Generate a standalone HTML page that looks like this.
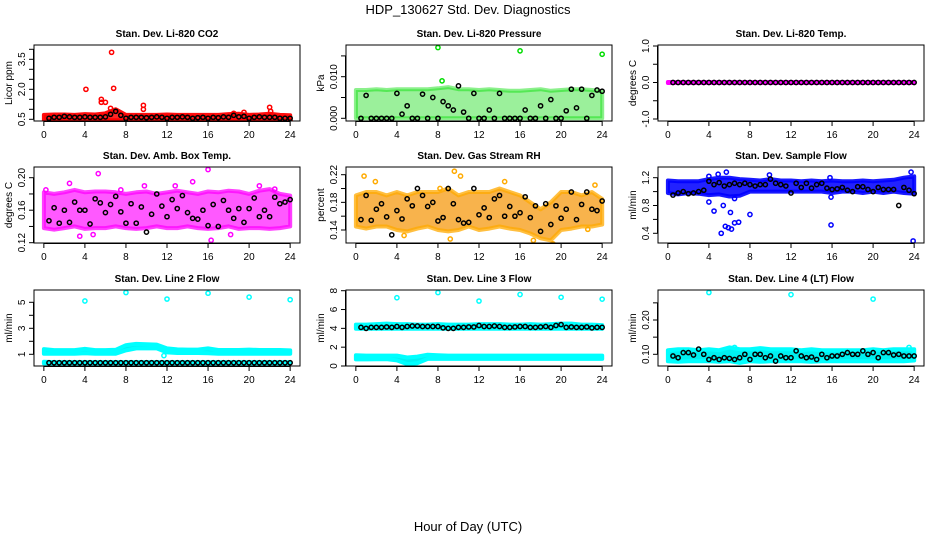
<!DOCTYPE html>
<html><head><meta charset="utf-8"><style>
body{margin:0;background:#fff;}
svg{display:block;font-family:"Liberation Sans",sans-serif;}
</style></head><body>
<svg id="chart" width="936" height="540" viewBox="0 0 936 540">
<rect x="0" y="0" width="936" height="540" fill="#fff"/>
<text x="468" y="14" text-anchor="middle" font-size="13">HDP_130627  Std. Dev. Diagnostics</text>
<text x="468" y="531" text-anchor="middle" font-size="13">Hour of Day (UTC)</text>
</svg>
<script>
// ---- data ----
const xTicks = [0,4,8,12,16,20,24];
const blkTimes = [0.5,1,1.5,2,2.5,3,3.5,4,4.5,5,5.5,6,6.5,7,7.5,8,8.5,9,9.5,10,10.5,11,11.5,12,12.5,13,13.5,14,14.5,15,15.5,16,16.5,17,17.5,18,18.5,19,19.5,20,20.5,21,21.5,22,22.5,23,23.5,24];
const bandHours = [0,1,2,3,4,5,6,7,8,9,10,11,12,13,14,15,16,17,18,19,20,21,22,23,24];

const co2Black = [0.55,0.6,0.6,0.65,0.62,0.6,0.6,0.62,0.6,0.6,0.6,0.62,0.75,0.9,0.7,0.55,0.6,0.6,0.6,0.58,0.6,0.62,0.6,0.55,0.6,0.6,0.62,0.6,0.55,0.58,0.6,0.55,0.6,0.58,0.62,0.6,0.7,0.62,0.65,0.55,0.6,0.62,0.6,0.6,0.6,0.55,0.55,0.55];
const co2Lo = [0.45,0.45,0.45,0.45,0.45,0.45,0.45,0.45,0.45,0.45,0.45,0.45,0.45,0.45,0.45,0.45,0.45,0.45,0.45,0.45,0.45,0.45,0.45,0.45,0.45];
const co2Hi = [0.72,0.74,0.74,0.72,0.76,0.74,0.8,1.0,0.72,0.72,0.72,0.72,0.74,0.72,0.72,0.72,0.72,0.72,0.76,0.78,0.72,0.74,0.78,0.72,0.7];
const co2Out = [[4.1,2.0],[5.6,1.5],[5.6,1.35],[6.0,1.35],[6.6,3.85],[6.8,2.05],[6.5,1.05],[9.7,1.2],[9.7,1.0],[22,1.1],[22.1,0.9],[19.5,0.85],[18.5,0.8],[24,0.42]];

const presBlack = [0,0.0055,0,0,0,0,0,0.006,0.001,0.003,0,0,0.0058,0,0.005,0,0.004,0.003,0.002,0.0078,0.0015,0,0.006,0,0,0.002,0,0.006,0,0,0,0,0.002,0,0,0.003,0,0.0045,0,0,0.0018,0.007,0.0025,0.007,0,0.0055,0.0068,0.0065];
const presLo = [0,0,0,0,0,0,0,0,0,0,0,0,0,0,0,0,0,0,0,0,0,0,0,0,0];
const presHi = [0.0068,0.0068,0.007,0.0068,0.007,0.007,0.007,0.007,0.0072,0.0075,0.007,0.007,0.0068,0.007,0.0068,0.0066,0.0066,0.0068,0.007,0.0066,0.0068,0.007,0.007,0.0068,0.0065];
const presOut = [[8,0.017],[16,0.0162],[24,0.0154],[8.4,0.009]];

const tempBlack = [0,0,0,0,0,0,0,0,0,0,0,0,0,0,0,0,0,0,0,0,0,0,0,0,0,0,0,0,0,0,0,0,0,0,0,0,0,0,0,0,0,0,0,0,0,0,0,0];
const tempLo = [-0.015,-0.015,-0.015,-0.015,-0.015,-0.015,-0.015,-0.015,-0.015,-0.015,-0.015,-0.015,-0.015,-0.015,-0.015,-0.015,-0.015,-0.015,-0.015,-0.015,-0.015,-0.015,-0.015,-0.015,-0.015];
const tempHi = [0.015,0.015,0.015,0.015,0.015,0.015,0.015,0.015,0.015,0.015,0.015,0.015,0.015,0.015,0.015,0.015,0.015,0.015,0.015,0.015,0.015,0.015,0.015,0.015,0.015];
const tempOut = [];

const ambBlack = [0.147,0.163,0.144,0.16,0.145,0.17,0.16,0.16,0.143,0.174,0.169,0.157,0.167,0.177,0.158,0.144,0.168,0.144,0.164,0.133,0.155,0.18,0.165,0.152,0.173,0.162,0.178,0.157,0.15,0.149,0.16,0.141,0.167,0.14,0.172,0.16,0.15,0.162,0.145,0.162,0.175,0.152,0.16,0.152,0.176,0.168,0.17,0.173];
const ambLo = [0.138,0.136,0.138,0.14,0.137,0.138,0.138,0.14,0.138,0.137,0.138,0.14,0.138,0.138,0.14,0.138,0.137,0.138,0.14,0.137,0.138,0.138,0.137,0.138,0.14];
const ambHi = [0.182,0.18,0.182,0.185,0.182,0.183,0.183,0.182,0.18,0.182,0.183,0.18,0.182,0.184,0.182,0.18,0.183,0.182,0.184,0.183,0.18,0.184,0.186,0.18,0.178];
const ambOut = [[5.3,0.205],[16,0.21],[2.5,0.193],[14.5,0.195],[7.5,0.185],[16.3,0.123],[3.5,0.128],[18.2,0.13],[4.8,0.13],[22.5,0.186],[0.2,0.185],[9.8,0.19],[12.8,0.19],[21,0.19]];

const rhBlack = [0.155,0.19,0.154,0.17,0.178,0.159,0.133,0.168,0.156,0.185,0.175,0.2,0.19,0.174,0.18,0.153,0.158,0.2,0.178,0.155,0.15,0.151,0.2,0.162,0.172,0.158,0.185,0.19,0.16,0.174,0.16,0.165,0.188,0.158,0.175,0.138,0.178,0.148,0.175,0.157,0.17,0.195,0.155,0.177,0.195,0.17,0.168,0.182];
const rhLo = [0.145,0.142,0.145,0.145,0.14,0.138,0.142,0.145,0.14,0.138,0.14,0.145,0.14,0.142,0.145,0.142,0.14,0.135,0.128,0.125,0.14,0.142,0.145,0.145,0.148];
const rhHi = [0.19,0.195,0.195,0.19,0.195,0.19,0.195,0.195,0.195,0.2,0.19,0.195,0.195,0.195,0.2,0.195,0.19,0.18,0.17,0.18,0.195,0.195,0.19,0.195,0.185];
const rhOut = [[0.8,0.218],[9.6,0.225],[10.2,0.218],[4.7,0.132],[9.2,0.127],[17.3,0.125],[19.2,0.12],[22.6,0.141],[14.5,0.21],[1.9,0.21],[23.3,0.205],[8.2,0.2]];

const flowBlack = [0.95,0.98,1.0,0.97,0.98,1.0,1.02,1.15,1.1,1.13,1.08,1.1,1.12,1.1,1.12,1.1,1.08,1.1,1.1,1.18,1.12,1.1,1.08,0.98,1.12,1.06,1.12,1.05,1.1,1.12,1.05,1.03,1.04,1.06,1.02,1.0,1.07,1.07,1.03,1.0,1.06,1.03,1.03,1.03,0.8,1.06,1.02,0.97];
const flowLo = [0.98,0.96,0.98,0.97,0.95,0.96,0.93,0.94,1.0,1.0,1.0,1.0,1.0,1.0,1.0,1.0,0.98,1.0,1.0,0.98,1.0,0.98,1.0,0.98,0.97];
const flowHi = [1.16,1.15,1.15,1.15,1.18,1.2,1.2,1.18,1.17,1.16,1.18,1.16,1.16,1.15,1.16,1.15,1.16,1.15,1.15,1.16,1.15,1.16,1.17,1.2,1.22];
const flowOut = [[4.0,0.85],[4.5,0.72],[5.2,0.4],[5.4,0.8],[5.6,0.5],[5.9,0.48],[6.2,0.46],[6.5,0.55],[6.1,0.7],[6.9,0.56],[8.0,0.67],[15.9,0.52],[23.9,0.29],[5.7,1.28],[4.9,1.25],[23.7,1.28],[15.9,0.92],[6.5,0.9],[4.0,1.22],[9.9,1.24],[15.8,1.2]];

const l2Black = [0.35,0.35,0.35,0.35,0.35,0.35,0.35,0.35,0.35,0.35,0.35,0.35,0.35,0.35,0.35,0.35,0.35,0.35,0.35,0.35,0.35,0.35,0.35,0.35,0.35,0.35,0.35,0.35,0.35,0.35,0.35,0.35,0.35,0.35,0.35,0.35,0.35,0.35,0.35,0.35,0.35,0.35,0.35,0.35,0.35,0.35,0.35,0.35];
const l2Lo = [1.05,1.05,1.05,1.05,1.08,1.05,1.05,1.05,1.3,1.45,1.45,1.45,1.15,1.1,1.1,1.1,1.08,1.05,1.05,1.05,1.05,1.05,1.05,1.05,1.05];
const l2Hi = [1.4,1.32,1.32,1.32,1.42,1.32,1.32,1.35,1.7,1.8,1.78,1.75,1.45,1.38,1.36,1.36,1.45,1.33,1.33,1.33,1.36,1.33,1.33,1.33,1.3];
const l2Lo2 = [0.3,0.3,0.3,0.3,0.3,0.3,0.3,0.3,0.3,0.3,0.3,0.3,0.3,0.3,0.3,0.3,0.3,0.3,0.3,0.3,0.3,0.3,0.3,0.3,0.3];
const l2Hi2 = [0.42,0.4,0.4,0.4,0.4,0.4,0.4,0.4,0.4,0.4,0.4,0.4,0.4,0.4,0.4,0.4,0.4,0.4,0.4,0.4,0.4,0.4,0.4,0.4,0.4];
const l2Out = [[4,5.1],[8,5.75],[12,5.25],[16,5.7],[20,5.4],[24,5.2],[11.7,0.9]];

const l3Black = [4.1,4.0,4.1,4.1,4.1,4.15,4.1,4.2,4.1,4.2,4.25,4.25,4.2,4.2,4.2,4.2,4.05,4.0,4.0,4.1,4.1,4.15,4.15,4.3,4.2,4.2,4.25,4.2,4.1,4.1,4.15,4.2,4.2,4.1,4.1,4.15,4.2,4.1,4.3,4.4,4.1,4.15,4.1,4.1,4.15,4.05,4.1,4.1];
const l3Lo = [3.95,3.95,3.95,3.95,3.95,3.95,3.95,3.95,3.95,3.95,3.95,3.95,3.95,3.95,3.95,3.95,3.95,3.95,3.95,3.95,3.95,3.95,3.95,3.95,3.95];
const l3Hi = [4.4,4.4,4.45,4.5,4.45,4.45,4.4,4.4,4.45,4.4,4.4,4.4,4.45,4.45,4.45,4.4,4.4,4.45,4.4,4.45,4.5,4.5,4.4,4.4,4.35];
const l3Lo2 = [0.7,0.7,0.72,0.72,0.6,0.2,0.3,0.75,0.75,0.75,0.75,0.75,0.75,0.75,0.75,0.75,0.75,0.75,0.75,0.75,0.75,0.75,0.75,0.75,0.75];
const l3Hi2 = [1.15,1.1,1.1,1.1,1.1,0.9,1.0,1.2,1.15,1.1,1.1,1.1,1.1,1.1,1.1,1.1,1.1,1.1,1.1,1.1,1.1,1.1,1.1,1.1,1.1];
const l3Out = [[4,7.25],[8,7.8],[12,6.9],[16,7.6],[20,7.3],[24,7.1]];

const l4Black = [0.095,0.09,0.105,0.105,0.098,0.115,0.1,0.085,0.09,0.085,0.09,0.088,0.085,0.09,0.1,0.085,0.1,0.1,0.09,0.095,0.08,0.095,0.09,0.09,0.11,0.095,0.09,0.092,0.085,0.1,0.09,0.095,0.095,0.1,0.105,0.1,0.1,0.11,0.1,0.105,0.09,0.105,0.105,0.098,0.1,0.095,0.095,0.095];
const l4Lo = [0.08,0.078,0.08,0.08,0.08,0.078,0.08,0.075,0.08,0.078,0.08,0.08,0.08,0.08,0.078,0.08,0.08,0.08,0.08,0.08,0.08,0.08,0.08,0.08,0.082];
const l4Hi = [0.112,0.115,0.115,0.112,0.115,0.112,0.12,0.115,0.115,0.118,0.115,0.115,0.115,0.112,0.115,0.112,0.112,0.112,0.112,0.112,0.115,0.112,0.115,0.115,0.115];
const l4Out = [[4,0.28],[12,0.274],[20,0.261],[6.5,0.12],[23.5,0.12]];

// ---- layout ----
const panels = [
 {name:'co2',title:'Stan. Dev. Li-820 CO2',ylab:'Licor ppm',col:0,row:0,color:'#ff0000',fill:'#ff1a1a',op:0.95,v0:0.5,p0:119.3,v1:3.5,p1:59.3,ticks:[0.5,1,1.5,2,2.5,3,3.5,4],labels:['0.5','2.0','3.5'],labVals:[0.5,2,3.5],bands:[[co2Lo,co2Hi]],out:co2Out,blk:co2Black},
 {name:'pressure',title:'Stan. Dev. Li-820 Pressure',ylab:'kPa',col:1,row:0,color:'#00dd00',fill:'#22dd22',op:0.45,v0:0,p0:118.3,v1:0.01,p1:76.7,ticks:[0,0.005,0.01,0.015],labels:['0.000','0.010'],labVals:[0,0.01],bands:[[presLo,presHi]],out:presOut,blk:presBlack},
 {name:'temp',title:'Stan. Dev. Li-820 Temp.',ylab:'degrees C',col:2,row:0,color:'#ff00ff',fill:'#ff00ff',op:1,v0:-1,p0:119,v1:1,p1:46,ticks:[-1,-0.5,0,0.5,1],labels:['-1.0','0.0','1.0'],labVals:[-1,0,1],bands:[[tempLo,tempHi]],out:tempOut,blk:tempBlack},
 {name:'amb-temp',title:'Stan. Dev. Amb. Box Temp.',ylab:'degrees C',col:0,row:1,color:'#ff00ff',fill:'#ff22ff',op:0.75,v0:0.12,p0:242.7,v1:0.2,p1:177.7,ticks:[0.12,0.14,0.16,0.18,0.2],labels:['0.12','0.16','0.20'],labVals:[0.12,0.16,0.2],bands:[[ambLo,ambHi]],out:ambOut,blk:ambBlack},
 {name:'rh',title:'Stan. Dev. Gas Stream RH',ylab:'percent',col:1,row:1,color:'#ffaa00',fill:'#f59a10',op:0.75,v0:0.14,p0:230,v1:0.22,p1:174.7,ticks:[0.14,0.16,0.18,0.2,0.22],labels:['0.14','0.18','0.22'],labVals:[0.14,0.18,0.22],bands:[[rhLo,rhHi]],out:rhOut,blk:rhBlack},
 {name:'sample-flow',title:'Stan. Dev. Sample Flow',ylab:'ml/min',col:2,row:1,color:'#0000ff',fill:'#0a0aff',op:0.9,v0:0.4,p0:233.3,v1:1.2,p1:177.7,ticks:[0.4,0.6,0.8,1.0,1.2],labels:['0.4','0.8','1.2'],labVals:[0.4,0.8,1.2],bands:[[flowLo,flowHi]],out:flowOut,blk:flowBlack},
 {name:'line2',title:'Stan. Dev. Line 2 Flow',ylab:'ml/min',col:0,row:2,color:'#00ffff',fill:'#00f0f0',op:1,v0:1,p0:354.3,v1:5,p1:302.3,ticks:[1,2,3,4,5],labels:['1','3','5'],labVals:[1,3,5],bands:[[l2Lo,l2Hi],[l2Lo2,l2Hi2]],out:l2Out,blk:l2Black},
 {name:'line3',title:'Stan. Dev. Line 3 Flow',ylab:'ml/min',col:1,row:2,color:'#00ffff',fill:'#00f0f0',op:1,v0:0,p0:366,v1:8,p1:290.7,ticks:[0,2,4,6,8],labels:['0','2','4','6','8'],labVals:[0,2,4,6,8],bands:[[l3Lo,l3Hi],[l3Lo2,l3Hi2]],out:l3Out,blk:l3Black},
 {name:'line4',title:'Stan. Dev. Line 4 (LT) Flow',ylab:'ml/min',col:2,row:2,color:'#00ffff',fill:'#00f0f0',op:1,v0:0.1,p0:354.3,v1:0.2,p1:320,ticks:[0.1,0.15,0.2,0.25],labels:['0.10','0.20'],labVals:[0.1,0.2],bands:[[l4Lo,l4Hi]],out:l4Out,blk:l4Black}
];
const colLeft=[34,346,658], boxW=266, rowTop=[45,167,290], boxH=76;
const NS='http://www.w3.org/2000/svg';
const svg=document.getElementById('chart');
function mk(tag,attrs,parent){const e=document.createElementNS(NS,tag);for(const k in attrs)e.setAttribute(k,attrs[k]);(parent||svg).appendChild(e);return e;}

panels.forEach(p=>{
  const L=colLeft[p.col], T=rowTop[p.row], R=L+boxW, B=T+boxH;
  const xs=t=>L+9.85+t/24*246.3;
  const ys=v=>p.p0+(v-p.v0)*(p.p1-p.p0)/(p.v1-p.v0);
  const g=mk('g',{});
  
  
  const clip=mk('clipPath',{id:'c-'+p.name},g);
  mk('rect',{x:L,y:T,width:boxW,height:boxH},clip);
  const plot=mk('g',{'clip-path':'url(#c-'+p.name+')'},g);
  p.bands.forEach(b=>{
    let d='';
    bandHours.forEach((h,i)=>{d+=(i?'L':'M')+xs(h).toFixed(1)+','+ys(b[1][i]).toFixed(1);});
    for(let i=bandHours.length-1;i>=0;i--) d+='L'+xs(bandHours[i]).toFixed(1)+','+ys(b[0][i]).toFixed(1);
    const e=mk('path',{d:d+'Z',fill:p.fill,'fill-opacity':p.op,stroke:p.color,'stroke-width':4,'stroke-linejoin':'round','stroke-opacity':p.op},plot);
    
    
  });
  p.out.forEach(o=>{
    const c=mk('circle',{cx:xs(o[0]),cy:ys(o[1]),r:2.1,fill:'none',stroke:p.color,'stroke-width':1.5},plot);
    
    
  });
  p.blk.forEach((v,i)=>{
    const c=mk('circle',{cx:xs(blkTimes[i]),cy:ys(v),r:2.1,fill:'none',stroke:'#000','stroke-width':1.5},plot);
    
    
  });
  mk('rect',{x:L,y:T,width:boxW,height:boxH,fill:'none',stroke:'#000','stroke-width':1},g);
  const tt=mk('text',{x:(L+R)/2,y:T-8,'text-anchor':'middle','font-size':10,'font-weight':'bold'},g);
  tt.textContent=p.title;
  
  
  mk('line',{x1:xs(0),x2:xs(24),y1:B+0.5,y2:B+0.5,stroke:'#000'},g);
  xTicks.forEach(t=>{
    mk('line',{x1:xs(t),x2:xs(t),y1:B,y2:B+5,stroke:'#000'},g);
    const tx=mk('text',{x:xs(t),y:B+17,'text-anchor':'middle','font-size':10},g);
    tx.textContent=t;
    
    
  });
  mk('line',{x1:L-0.5,x2:L-0.5,y1:ys(p.ticks[0]),y2:ys(p.ticks[p.ticks.length-1]),stroke:'#000'},g);
  p.ticks.forEach(v=>{mk('line',{x1:L-5,x2:L,y1:ys(v),y2:ys(v),stroke:'#000'},g);});
  p.labVals.forEach((v,i)=>{
    const ty=mk('text',{x:L-9,y:ys(v),'text-anchor':'middle','font-size':10,transform:'rotate(-90 '+(L-9)+' '+ys(v)+')'},g);
    ty.textContent=p.labels[i];
    
    
  });
  const yl=mk('text',{x:L-22,y:(T+B)/2,'text-anchor':'middle','font-size':10,transform:'rotate(-90 '+(L-22)+' '+((T+B)/2)+')'},g);
  yl.textContent=p.ylab;
  
  
});
</script>
</body></html>
